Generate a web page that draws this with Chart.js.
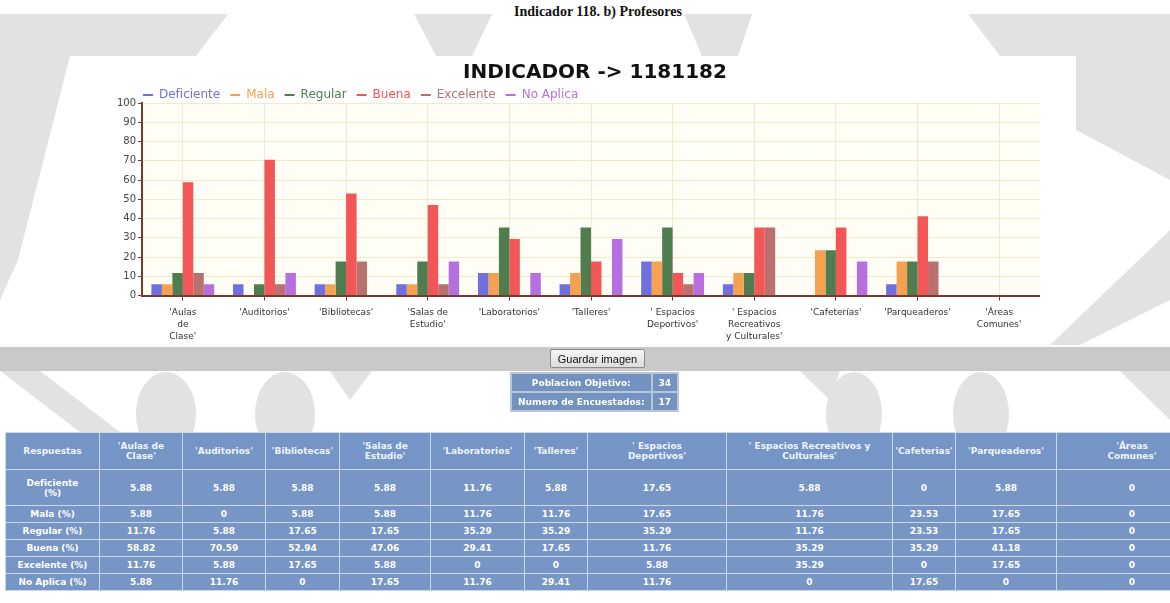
<!DOCTYPE html>
<html lang="es">
<head>
<meta charset="utf-8">
<title>Indicador 118. b) Profesores</title>
<script src="https://cdn.jsdelivr.net/npm/chart.js@4.4.1/dist/chart.umd.min.js"></script>
<style>
  html, body { margin: 0; padding: 0; }
  body { width: 1170px; height: 603px; overflow: hidden; background: #fff; position: relative; font-family: "DejaVu Sans", Verdana, sans-serif; }
  #fondo { position: absolute; left: 0; top: 0; }
  .encabezado { position: absolute; top: 4px; left: 0; width: 1196px; margin: 0; text-align: center; font: bold 14px "Liberation Serif", "Times New Roman", serif; color: #111; }
  #cajaGrafico { position: absolute; left: 100px; top: 56px; width: 945px; height: 292px; background: #fff; }
  #grafico { position: absolute; left: 100px; top: 61px; }
  .barra { position: absolute; left: 0; top: 347px; width: 1170px; height: 24px; background: #c9c9c9; }
  .boton { position: absolute; left: 550px; top: 349px; width: 95px; height: 19px; font: 11px "Liberation Sans", Arial, sans-serif; color: #111; background: linear-gradient(#f6f6f6, #dcdcdc); border: 1px solid #8a8a8a; border-radius: 2px; padding: 0; }
  #resumen { position: absolute; left: 510px; top: 372px; border-collapse: separate; border-spacing: 2px; background: #b8c6da; }
  #resumen td { background: #7392c0; color: #fff; font: bold 9px "DejaVu Sans", sans-serif; height: 17px; padding: 0 6px; text-align: center; }
  #tabla { position: absolute; left: 5px; top: 432px; width: 1190px; table-layout: fixed; border-collapse: separate; border-spacing: 1px; background: rgba(200, 212, 230, 0.95); }
  #tabla th, #tabla td { background: rgba(104, 138, 190, 0.85); color: #fff; font: bold 9px "DejaVu Sans", sans-serif; text-align: center; padding: 0 2px; white-space: pre-line; }
  #tabla th { background: rgba(108, 142, 194, 0.9); color: #eef3fb; }
  #tabla tr.alta td { height: 35px; }
  #tabla tr.cab th { height: 36px; }
  #tabla tr.fila td { height: 16px; }
</style>
</head>
<body>
<svg id="fondo" width="1170" height="603">
  <g fill="#e2e2e2">
    <polygon points="0,14 228,14 196,56 70,56 18,260 0,300"/>
    <polygon points="414,14 492,14 472,56 436,56"/>
    <polygon points="684,14 752,14 738,56 702,56"/>
    <polygon points="968,14 1170,14 1170,180 1076,130 1076,56 1000,56"/>
    <polygon points="1170,230 1170,300 1080,345 1050,345"/>
    <polygon points="0,371 40,371 120,432 80,432"/>
    <polygon points="330,371 372,371 350,400"/>
    <polygon points="800,371 840,371 830,400"/>
    <polygon points="1120,371 1170,371 1170,420"/>
    <ellipse cx="166" cy="414" rx="30" ry="42"/>
    <ellipse cx="285" cy="414" rx="30" ry="42"/>
    <ellipse cx="854" cy="414" rx="28" ry="42"/>
    <ellipse cx="981" cy="414" rx="28" ry="42"/>
  </g>
</svg>

<h1 class="encabezado">Indicador 118. b) Profesores</h1>
<div id="cajaGrafico"></div>
<canvas id="grafico" width="940" height="288"></canvas>
<div class="barra"></div>
<button class="boton">Guardar imagen</button>

<table id="resumen">
  <tr><td>Poblacion Objetivo:</td><td id="poblacion"></td></tr>
  <tr><td>Numero de Encuestados:</td><td id="encuestados"></td></tr>
</table>

<table id="tabla"></table>

<script>
// Etiquetas del eje X (una entrada por línea)
const categorias = [
  ["'Aulas", "de", "Clase'"],
  ["'Auditorios'"],
  ["'Bibliotecas'"],
  ["'Salas de", "Estudio'"],
  ["'Laboratorios'"],
  ["'Talleres'"],
  ["' Espacios", "Deportivos'"],
  ["' Espacios", "Recreativos", "y Culturales'"],
  ["'Cafeterías'"],
  ["'Parqueaderos'"],
  ["'Áreas", "Comunes'"]
];

const encabezados = [
  "'Aulas de\nClase'", "'Auditorios'", "'Bibliotecas'", "'Salas de\nEstudio'",
  "'Laboratorios'", "'Talleres'", "' Espacios\nDeportivos'",
  "' Espacios Recreativos y\nCulturales'", "'Cafeterias'", "'Parqueaderos'", "'Áreas\nComunes'"
];

const respuestas = ['Deficiente', 'Mala', 'Regular', 'Buena', 'Excelente', 'No Aplica'];

// Porcentajes por respuesta (17 encuestados)
const deficiente = [5.88, 5.88, 5.88, 5.88, 11.76, 5.88, 17.65, 5.88, 0, 5.88, 0];
const mala       = [5.88, 0, 5.88, 5.88, 11.76, 11.76, 17.65, 11.76, 23.53, 17.65, 0];
const regular    = [11.76, 5.88, 17.65, 17.65, 35.29, 35.29, 35.29, 11.76, 23.53, 17.65, 0];
const buena      = [58.82, 70.59, 52.94, 47.06, 29.41, 17.65, 11.76, 35.29, 35.29, 41.18, 0];
const excelente  = [11.76, 5.88, 17.65, 5.88, 0, 0, 5.88, 35.29, 0, 17.65, 0];
const noAplica   = [5.88, 11.76, 0, 17.65, 11.76, 29.41, 11.76, 0, 17.65, 0, 0];

const poblacionObjetivo = 34;
const numeroEncuestados = 17;

const colores = ['#6f6fdf', '#f5a14f', '#4f7d4f', '#f25656', '#b9716f', '#b56fe0'];
const valores = [deficiente, mala, regular, buena, excelente, noAplica];

// fondo del área de trazado y posición de leyenda / título
const ajustes = {
  id: 'ajustes',
  afterLayout(chart) {
    chart.legend.left += 33;
    chart.legend.top -= 8;
    chart.titleBlock.left += 25;
    chart.titleBlock.right += 25;
  },
  beforeDraw(chart) {
    const { ctx, chartArea: a } = chart;
    ctx.save();
    ctx.fillStyle = '#fffef6';
    ctx.fillRect(a.left, a.top, a.width, a.height);
    ctx.restore();
  }
};

const ejeColor = '#7a3b2e';
const rejilla = 'rgba(232, 218, 160, 0.55)';

new Chart(document.getElementById('grafico'), {
  type: 'bar',
  data: {
    labels: categorias,
    datasets: respuestas.map((nombre, i) => ({
      label: nombre,
      data: valores[i],
      backgroundColor: colores[i],
      borderWidth: 0,
      barPercentage: 1,
      categoryPercentage: 0.77
    }))
  },
  options: {
    responsive: false,
    animation: false,
    devicePixelRatio: 1,
    layout: { padding: 0 },
    plugins: {
      title: {
        display: true,
        text: 'INDICADOR -> 1181182',
        color: '#111',
        font: { family: 'DejaVu Sans', size: 20, weight: 'bold' },
        padding: { top: 0, bottom: 2 }
      },
      legend: {
        display: true,
        position: 'top',
        align: 'start',
        maxHeight: 16,
        labels: {
          boxWidth: 10,
          boxHeight: 2,
          padding: 10,
          font: { family: 'DejaVu Sans', size: 12 },
          generateLabels: (chart) => chart.data.datasets.map((ds, i) => ({
            text: ds.label,
            fillStyle: ds.backgroundColor,
            strokeStyle: ds.backgroundColor,
            lineWidth: 0,
            fontColor: ds.backgroundColor,
            hidden: false,
            datasetIndex: i
          }))
        }
      },
      tooltip: { enabled: false }
    },
    scales: {
      x: {
        grid: { offset: false, color: rejilla, tickColor: ejeColor, tickLength: 5 },
        border: { color: ejeColor, width: 2 },
        ticks: {
          autoSkip: false,
          maxRotation: 0,
          minRotation: 0,
          padding: 6,
          color: '#333',
          font: { family: 'DejaVu Sans', size: 9, lineHeight: 1.35 }
        }
      },
      y: {
        min: 0,
        max: 100,
        afterFit(scale) { scale.width = 42; },
        grid: { color: rejilla, tickColor: ejeColor, tickLength: 4 },
        border: { color: ejeColor, width: 2 },
        ticks: {
          stepSize: 10,
          padding: 2,
          color: '#444',
          font: { family: 'DejaVu Sans', size: 10 }
        }
      }
    }
  },
  plugins: [ajustes]
});

// Tablas de resumen
document.getElementById('poblacion').textContent = poblacionObjetivo;
document.getElementById('encuestados').textContent = numeroEncuestados;

const anchos = [93, 82, 82, 73, 90, 93, 62, 138, 165, 62, 100, 150];
const tabla = document.getElementById('tabla');
const colgroup = document.createElement('colgroup');
anchos.forEach(w => {
  const col = document.createElement('col');
  col.style.width = w + 'px';
  colgroup.appendChild(col);
});
tabla.appendChild(colgroup);

const cab = document.createElement('tr');
cab.className = 'cab';
['Respuestas'].concat(encabezados).forEach(t => {
  const th = document.createElement('th');
  th.textContent = t;
  cab.appendChild(th);
});
tabla.appendChild(cab);

const formato = v => v === 0 ? '0' : v.toFixed(2);
respuestas.forEach((nombre, i) => {
  const tr = document.createElement('tr');
  tr.className = i === 0 ? 'alta' : 'fila';
  const td0 = document.createElement('td');
  td0.textContent = i === 0 ? nombre + '\n(%)' : nombre + ' (%)';
  tr.appendChild(td0);
  valores[i].forEach(v => {
    const td = document.createElement('td');
    td.textContent = formato(v);
    tr.appendChild(td);
  });
  tabla.appendChild(tr);
});
</script>
</body>
</html>
